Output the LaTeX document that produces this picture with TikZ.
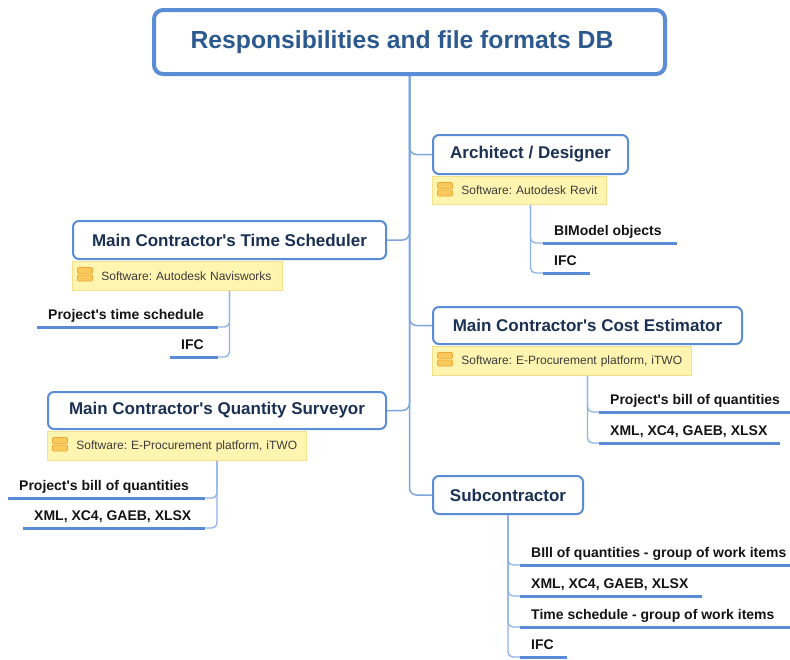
\documentclass[tikz,border=0pt]{standalone}
\usepackage{fontspec}
\setmainfont{Liberation Sans}
\frenchspacing
\definecolor{boxc}{HTML}{5B8DD6}
\definecolor{connc}{HTML}{7DA5E0}
\definecolor{lconnc}{HTML}{8FB3E8}
\definecolor{ulc}{HTML}{5A8BD6}
\definecolor{titlec}{HTML}{2D5A8E}
\definecolor{topicc}{HTML}{1B3154}
\definecolor{leafc}{HTML}{141414}
\definecolor{notefill}{HTML}{FFF4B0}
\definecolor{notedraw}{HTML}{F4E08A}
\definecolor{iconfill}{HTML}{F9C95C}
\definecolor{icondraw}{HTML}{EFA733}
\definecolor{notetext}{HTML}{3C3C3C}
\newcommand\leaftext[2]{\makebox[#1][l]{#2}}
\newcommand\ap{\textquotesingle}
\newcommand\noteicon[1]{%
  \draw[fill=iconfill, draw=icondraw, line width=0.6pt, rounded corners=1pt]
    ([shift={(5.5,6.5)}]#1.north west) rectangle ([shift={(20.5,12.7)}]#1.north west);
  \draw[fill=iconfill, draw=icondraw, line width=0.6pt, rounded corners=1pt]
    ([shift={(5.5,14.0)}]#1.north west) rectangle ([shift={(20.5,20.0)}]#1.north west);}
\tikzset{
 titlebox/.style={draw=boxc, line width=4pt, rounded corners=9pt, fill=white, text=titlec,
   font=\fontsize{24.7}{28}\selectfont\bfseries, minimum width=511pt, minimum height=64pt, inner sep=0pt},
 topic/.style={draw=boxc, line width=2pt, rounded corners=6pt, fill=white, text=topicc,
   font=\fontsize{17}{20}\selectfont\bfseries, inner sep=0pt},
 notebox/.style={draw=notedraw, line width=0.8pt, fill=notefill, text=notetext,
   font=\fontsize{12}{14}\selectfont, anchor=north west, inner xsep=4pt, inner ysep=0pt,
   align=left, minimum height=28pt},
 leaf/.style={anchor=south west, text=leafc, font=\fontsize{14}{16}\selectfont\bfseries,
   inner xsep=11pt, inner ysep=4pt, text height=10pt, text depth=3pt},
 uline/.style={draw=ulc, line width=3pt},
 conn/.style={draw=connc, line width=1.5pt, rounded corners=7pt},
 lconn/.style={draw=lconnc, line width=1.3pt, rounded corners=5pt},
}
\begin{document}
\begin{tikzpicture}[x=1pt, y=-1pt]
\fill[white] (0,0) rectangle (790,659);
\useasboundingbox (0,0) rectangle (790,659);

% title
\node[titlebox] (title) at (409.5,42) {Responsibilities and file formats DB\hspace*{15pt}};

% topics
\node[topic, minimum width=195pt, minimum height=39pt] (arch) at (530.5,154.5) {Architect / Designer};
\node[topic, minimum width=313pt, minimum height=38pt] (ts) at (229.5,240) {Main Contractor\ap s Time Scheduler};
\node[topic, minimum width=309pt, minimum height=37pt] (ce) at (587.5,325.5) {Main Contractor\ap s Cost Estimator};
\node[topic, minimum width=338pt, minimum height=37pt] (qs) at (217,410.5) {Main Contractor\ap s Quantity Surveyor};
\node[topic, minimum width=150pt, minimum height=38pt] (sub) at (508,495) {Subcontractor};

% notes
\node[notebox, text width=166pt] (archn) at (432,176) {\hspace*{25pt}Software: Autodesk Revit};
\node[notebox, text width=202pt, minimum height=29pt] (tsn) at (72,261) {\hspace*{25pt}Software: Autodesk Navisworks};
\node[notebox, text width=251pt, minimum height=29pt] (cen) at (432,346) {\hspace*{25pt}Software: E-Procurement platform, iTWO};
\node[notebox, text width=251pt, minimum height=29pt] (qsn) at (47,431) {\hspace*{25pt}Software: E-Procurement platform, iTWO};
\noteicon{archn}
\noteicon{tsn}
\noteicon{cen}
\noteicon{qsn}

% leaves
\node[leaf] (bim) at (543,243) {\leaftext{112pt}{BIModel objects}};
\node[leaf] (ifca) at (543,273) {\leaftext{25pt}{IFC}};
\node[leaf] (pts) at (37,327) {\leaftext{159pt}{Project\ap s time schedule}};
\node[leaf] (ifct) at (170,357) {\leaftext{26pt}{IFC}};
\node[leaf] (pbqc) at (599,412) {\leaftext{169pt}{Project\ap s bill of quantities}};
\node[leaf] (xmlc) at (599,443) {\leaftext{159pt}{XML, XC4, GAEB, XLSX}};
\node[leaf] (pbqq) at (8,498) {\leaftext{175pt}{Project\ap s bill of quantities}};
\node[leaf] (xmlq) at (23,528) {\leaftext{160pt}{XML, XC4, GAEB, XLSX}};
\node[leaf] (sa) at (520,565) {\leaftext{248pt}{BIll of quantities - group of work items}};
\node[leaf] (sb) at (520,596) {\leaftext{160pt}{XML, XC4, GAEB, XLSX}};
\node[leaf] (sc) at (520,627) {\leaftext{248pt}{Time schedule - group of work items}};
\node[leaf] (sd) at (520,657) {\leaftext{25pt}{IFC}};

% main connectors
\draw[conn] (title.south) |- (sub.west);
\draw[conn] (title.south) |- (arch.west);
\draw[conn] (title.south) |- (ce.west);
\draw[conn] (title.south) |- (ts.east);
\draw[conn] (title.south) |- (qs.east);

% leaf connectors
\draw[lconn] (arch.south |- archn.south) |- (bim.south west);
\draw[lconn] (arch.south |- archn.south) |- (ifca.south west);
\draw[lconn] (ts.south |- tsn.south) |- (pts.south east);
\draw[lconn] (ts.south |- tsn.south) |- (ifct.south east);
\draw[lconn] (ce.south |- cen.south) |- (pbqc.south west);
\draw[lconn] (ce.south |- cen.south) |- (xmlc.south west);
\draw[lconn] (qs.south |- qsn.south) |- (pbqq.south east);
\draw[lconn] (qs.south |- qsn.south) |- (xmlq.south east);
\draw[lconn] (sub.south) |- (sa.south west);
\draw[lconn] (sub.south) |- (sb.south west);
\draw[lconn] (sub.south) |- (sc.south west);
\draw[lconn] (sub.south) |- (sd.south west);

% underlines
\foreach \n in {bim,ifca,pts,ifct,pbqc,xmlc,pbqq,xmlq,sa,sb,sc,sd}
  \draw[uline] (\n.south west) -- (\n.south east);
\end{tikzpicture}
\end{document}
